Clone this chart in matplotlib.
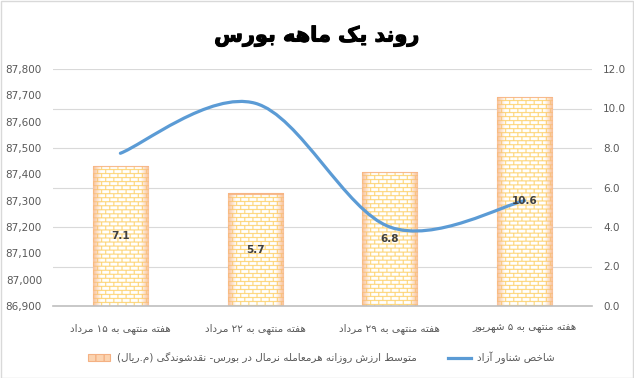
import re
import numpy as np
import matplotlib
matplotlib.use('Agg')
import matplotlib.pyplot as plt
import matplotlib.patheffects as pe
from matplotlib.path import Path
from matplotlib.patches import PathPatch, Rectangle
from matplotlib.lines import Line2D
from matplotlib.ticker import FuncFormatter, MultipleLocator

# ---- data ----
title = "روند یک ماهه بورس"
weeks = ["هفته منتهی به ۱۵ مرداد", "هفته منتهی به ۲۲ مرداد",
         "هفته منتهی به ۲۹ مرداد", "هفته منتهی به ۵ شهریور"]
avg_value = [7.1, 5.7, 6.8, 10.6]                 # bars, right axis
free_float = [87480, 87670, 87200, 87300]         # line, left axis
bar_label = "متوسط ارزش روزانه هرمعامله نرمال در بورس- نقدشوندگی (م.ریال)"
line_label = "شاخص شناور آزاد"

# ---- simple persian shaping (matplotlib has no arabic layout) ----
FORMS = {
    'ا': (0xFE8D, 0xFE8E, None, None), 'آ': (0xFE81, 0xFE82, None, None),
    'ب': (0xFE8F, 0xFE90, 0xFE91, 0xFE92), 'پ': (0xFB56, 0xFB57, 0xFB58, 0xFB59),
    'ت': (0xFE95, 0xFE96, 0xFE97, 0xFE98), 'ث': (0xFE99, 0xFE9A, 0xFE9B, 0xFE9C),
    'ج': (0xFE9D, 0xFE9E, 0xFE9F, 0xFEA0), 'چ': (0xFB7A, 0xFB7B, 0xFB7C, 0xFB7D),
    'ح': (0xFEA1, 0xFEA2, 0xFEA3, 0xFEA4), 'خ': (0xFEA5, 0xFEA6, 0xFEA7, 0xFEA8),
    'د': (0xFEA9, 0xFEAA, None, None), 'ذ': (0xFEAB, 0xFEAC, None, None),
    'ر': (0xFEAD, 0xFEAE, None, None), 'ز': (0xFEAF, 0xFEB0, None, None),
    'ژ': (0xFB8A, 0xFB8B, None, None),
    'س': (0xFEB1, 0xFEB2, 0xFEB3, 0xFEB4), 'ش': (0xFEB5, 0xFEB6, 0xFEB7, 0xFEB8),
    'ص': (0xFEB9, 0xFEBA, 0xFEBB, 0xFEBC), 'ض': (0xFEBD, 0xFEBE, 0xFEBF, 0xFEC0),
    'ط': (0xFEC1, 0xFEC2, 0xFEC3, 0xFEC4), 'ظ': (0xFEC5, 0xFEC6, 0xFEC7, 0xFEC8),
    'ع': (0xFEC9, 0xFECA, 0xFECB, 0xFECC), 'غ': (0xFECD, 0xFECE, 0xFECF, 0xFED0),
    'ف': (0xFED1, 0xFED2, 0xFED3, 0xFED4), 'ق': (0xFED5, 0xFED6, 0xFED7, 0xFED8),
    'ک': (0xFB8E, 0xFB8F, 0xFB90, 0xFB91), 'گ': (0xFB92, 0xFB93, 0xFB94, 0xFB95),
    'ل': (0xFEDD, 0xFEDE, 0xFEDF, 0xFEE0), 'م': (0xFEE1, 0xFEE2, 0xFEE3, 0xFEE4),
    'ن': (0xFEE5, 0xFEE6, 0xFEE7, 0xFEE8), 'ه': (0xFEE9, 0xFEEA, 0xFEEB, 0xFEEC),
    'و': (0xFEED, 0xFEEE, None, None), 'ی': (0xFBFC, 0xFBFD, 0xFBFE, 0xFBFF),
}


def fa(text):
    out = []
    for i, c in enumerate(text):
        if c not in FORMS:
            out.append(c)
            continue
        prev = text[i - 1] if i > 0 else ''
        nxt = text[i + 1] if i + 1 < len(text) else ''
        f = FORMS[c]
        jp = prev in FORMS and FORMS[prev][2] is not None
        jn = f[2] is not None and nxt in FORMS
        if jp and jn:
            out.append(chr(f[3]))
        elif jp:
            out.append(chr(f[1]))
        elif jn:
            out.append(chr(f[2]))
        else:
            out.append(chr(f[0]))
    tokens = re.findall(r'[0-9۰-۹]+|.', ''.join(out))
    mirror = {'(': ')', ')': '('}
    return ''.join(mirror.get(t, t) for t in reversed(tokens))


FA_FONT = ['DejaVu Sans']
GREY = '#595959'

fig = plt.figure(figsize=(6.34, 3.78), dpi=100)
ax = fig.add_axes([53 / 634, 1 - 306 / 378, 539 / 634, 237 / 378])
ax2 = ax.twinx()

x = np.arange(len(weeks))
bars = ax.bar(x, avg_value, width=0.41, color='white', edgecolor='#F4B183',
              linewidth=0.8, zorder=2)
ax.set_xlim(-0.5, len(weeks) - 0.5)
ax.set_ylim(0, 12)

# brick texture inside each bar (oversampled, then smoothed down)
px_x = ax.transData.transform((1, 0))[0] - ax.transData.transform((0, 0))[0]
px_y = ax.transData.transform((0, 1))[1] - ax.transData.transform((0, 0))[1]
orange = np.array([0.969, 0.710, 0.520])
mortar = np.array([0.992, 0.820, 0.420])
S = 4
for b in bars:
    wp = max(int(round(b.get_width() * px_x)), 1) * S
    hp = max(int(round(b.get_height() * px_y)), 1) * S
    yy, xx = np.mgrid[0:hp, 0:wp]
    img = np.ones((hp, wp, 3))
    row = yy // (4 * S)
    line = ((yy % (4 * S)) < S) | (((xx + 4 * S * (row % 2)) % (8 * S)) < S)
    img[line] = mortar
    d = np.minimum(xx, wp - 1 - xx) / S
    a = np.clip(1 - d / 8.0, 0, 1)[..., None] * 0.85
    img = img * (1 - a) + orange * a
    img[:2 * S] = orange
    im = ax.imshow(img, extent=(b.get_x(), b.get_x() + b.get_width(), 0, b.get_height()),
                   aspect='auto', interpolation='antialiased', zorder=2.5)
    im.set_clip_path(b)
ax.set_xlim(-0.5, len(weeks) - 0.5)
ax.set_ylim(0, 12)

# smooth line (excel-like bezier) through the points
pts = np.column_stack([x, free_float]).astype(float)
ext = np.vstack([pts[0], pts, pts[-1]])
verts = [tuple(pts[0])]
codes = [Path.MOVETO]
for i in range(len(pts) - 1):
    p0, p1, p2, p3 = ext[i], ext[i + 1], ext[i + 2], ext[i + 3]
    verts += [tuple(p1 + (p2 - p0) / 6), tuple(p2 - (p3 - p1) / 6), tuple(p2)]
    codes += [Path.CURVE4] * 3
ax2.add_patch(PathPatch(Path(verts, codes), facecolor='none', edgecolor='#5B9BD5',
                        linewidth=2.3, capstyle='round', zorder=3))
ax2.set_ylim(86900, 87800)

# bar value labels at bar centre
for xi, v in zip(x, avg_value):
    ax2.text(xi, v / 2, f"{v:.1f}", transform=ax.transData, ha='center', va='center',
             fontsize=7.5, fontweight='bold', color='#404040', zorder=5)

# axes styling
ax.yaxis.tick_right()
ax2.yaxis.tick_left()
ax.yaxis.set_major_locator(MultipleLocator(2))
ax.yaxis.set_major_formatter(FuncFormatter(lambda v, p: f"{v:.1f}"))
ax2.yaxis.set_major_locator(MultipleLocator(100))
ax2.yaxis.set_major_formatter(FuncFormatter(lambda v, p: f"{v:,.0f}"))
ax.grid(axis='y', color='#d9d9d9', linewidth=0.8, zorder=0)
ax.set_axisbelow(True)
for a_ in (ax, ax2):
    for s in a_.spines.values():
        s.set_visible(False)
    a_.tick_params(length=0, labelsize=7.5, labelcolor=GREY)
ax.spines['bottom'].set_visible(True)
ax.spines['bottom'].set_color('#bfbfbf')
ax.spines['bottom'].set_linewidth(1.2)
ax.tick_params(axis='y', pad=8)
ax2.tick_params(axis='y', pad=8)
ax.set_xticks(x)
ax.set_xticklabels([fa(w) for w in weeks], family=FA_FONT, fontsize=7.5, color=GREY)
ax.tick_params(axis='x', pad=12)

fig.text(0.5, 1 - 36 / 378, fa(title), ha='center', va='center', fontsize=15,
         fontweight='bold', family=FA_FONT, color='black',
         path_effects=[pe.withStroke(linewidth=0.8, foreground='black')])

h_bar = Rectangle((0, 0), 1, 1, facecolor='#FBD3B0', edgecolor='#F4B183', hatch='++', linewidth=0.8)
h_line = Line2D([], [], color='#5B9BD5', linewidth=2.3)
fig.legend([h_bar, h_line], [fa(bar_label), fa(line_label)], loc='center',
           bbox_to_anchor=(321 / 634, 1 - 358 / 378), ncol=2, frameon=False,
           prop={'family': FA_FONT, 'size': 7.5}, labelcolor=GREY,
           handlelength=2.2, handleheight=0.7, handletextpad=0.6, columnspacing=3.0)

fig.patches.append(Rectangle((0.001, 0.001), 0.998, 0.997, transform=fig.transFigure,
                             fill=False, edgecolor='#d9d9d9', linewidth=1))
fig.savefig('out.png', dpi=100)
